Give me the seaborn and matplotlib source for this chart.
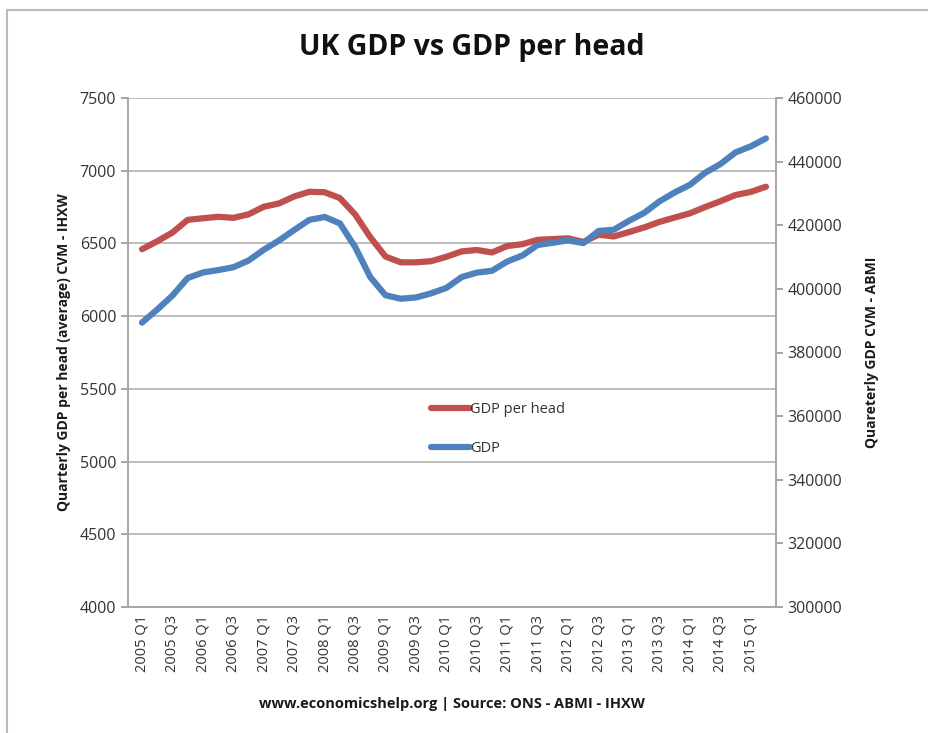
import matplotlib
matplotlib.use("Agg")
import matplotlib.pyplot as plt
from matplotlib.lines import Line2D
import seaborn as sns
import pandas as pd

years = list(range(2005, 2016))
quarters = [f"{y} Q{q}" for y in years for q in (1, 2, 3, 4)][:42]

gdp_per_head = [6460, 6515, 6575, 6662, 6673, 6683, 6676, 6700, 6752, 6775,
                6823, 6855, 6852, 6812, 6700, 6543, 6410, 6370, 6370, 6378,
                6408, 6445, 6455, 6438, 6482, 6495, 6525, 6530, 6535, 6510,
                6560, 6548, 6578, 6610, 6648, 6678, 6707, 6750, 6790, 6833,
                6854, 6890]
gdp = [389400, 393500, 397900, 403400, 405150, 405900, 406800, 408900, 412300, 415200,
       418500, 421700, 422600, 420600, 413200, 403700, 398000, 396900, 397300, 398600,
       400300, 403700, 405100, 405700, 408600, 410500, 413800, 414500, 415250, 414400,
       418200, 418600, 421400, 423900, 427500, 430300, 432700, 436500, 439200, 442900,
       444800, 447300]

left_ticks = [4000, 4500, 5000, 5500, 6000, 6500, 7000, 7500]
right_ticks = [300000, 320000, 340000, 360000, 380000, 400000, 420000, 440000, 460000]

title = "UK GDP vs GDP per head"
left_label = "Quarterly GDP per head (average) CVM - IHXW"
right_label = "Quareterly GDP CVM - ABMI"
source = "www.economicshelp.org | Source: ONS - ABMI - IHXW"

red = "#C0504D"
blue = "#4F81BD"

sns.set_theme(style="white")
plt.rcParams["font.family"] = ["Open Sans", "DejaVu Sans"]

df = pd.DataFrame({"idx": range(len(quarters)), "quarter": quarters,
                   "GDP per head": gdp_per_head, "GDP": gdp})

fig = plt.figure(figsize=(9.29, 7.33), dpi=100)
ax = fig.add_axes([128/929, 1-607/733, (776-128)/929, (607-98)/733])
ax2 = ax.twinx()

sns.lineplot(data=df, x="idx", y="GDP per head", ax=ax, color=red, lw=4.5,
             solid_capstyle="round", label="GDP per head", legend=False)
sns.lineplot(data=df, x="idx", y="GDP", ax=ax2, color=blue, lw=4.5,
             solid_capstyle="round", label="GDP", legend=False)

ax.set_xlim(-0.92, len(quarters) - 1 + 0.66)
ax.set_ylim(4000, 7500)
ax2.set_ylim(300000, 460000)
ax.set_yticks(left_ticks)
ax2.set_yticks(right_ticks)
ax.yaxis.grid(True, color="#b0b0b0", lw=1.2)
ax.xaxis.grid(False)
ax.set_xticks(list(range(0, len(quarters), 2)))
ax.set_xticklabels(quarters[::2], rotation=90, fontsize=10.5, color="#333333")
ax.tick_params(axis="y", labelsize=11.5, colors="#333333", length=5, direction="out", left=True, color="#999999")
ax2.tick_params(axis="y", labelsize=11.5, colors="#333333", length=5, direction="out", right=True, color="#999999")
ax.tick_params(axis="x", length=0, pad=6)
for a in (ax, ax2):
    a.spines["top"].set_visible(False)
    for s in ("left", "right", "bottom"):
        a.spines[s].set_color("#a6a6a6")
        a.spines[s].set_linewidth(1.2)
ax.set_xlabel(source, fontsize=10.5, fontweight="bold", labelpad=18, color="#1a1a1a")
ax.set_ylabel(left_label, fontsize=10, fontweight="bold", labelpad=6, color="#1a1a1a")
ax2.set_ylabel(right_label, fontsize=10, fontweight="bold", labelpad=16, color="#1a1a1a")

fig.text(472/929, 1-48/733, title, ha="center", va="center", fontsize=20.5,
         fontweight="bold", color="#111111")

handles = [Line2D([], [], color=red, lw=4.5, solid_capstyle="round"),
           Line2D([], [], color=blue, lw=4.5, solid_capstyle="round")]
leg = ax.legend(handles, ["GDP per head", "GDP"], loc="center left",
                bbox_to_anchor=((418-128)/648, (607-429)/509), frameon=False,
                fontsize=10.5, handlelength=2.7, handletextpad=0.0, labelspacing=1.65)
for t in leg.get_texts():
    t.set_color("#333333")

fig.add_artist(Line2D([7/929, 7/929], [0, 1-10/733], color="#bbbbbb", lw=1.5))
fig.add_artist(Line2D([7/929, 1], [1-10/733, 1-10/733], color="#bbbbbb", lw=1.5))

fig.savefig("out.png", dpi=100, facecolor="white")
